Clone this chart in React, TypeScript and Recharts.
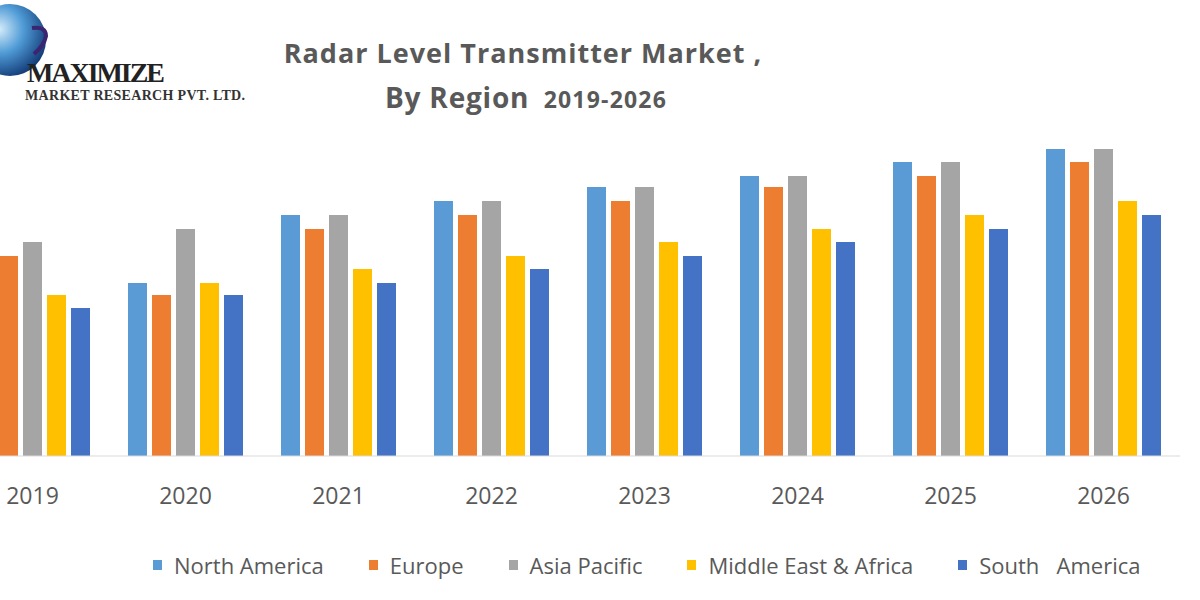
import React from 'react';
import { BarChart, Bar, XAxis, YAxis } from 'recharts';

// years shown on the category axis
const years = ['2019', '2020', '2021', '2022', '2023', '2024', '2025', '2026'];

// values (no axis in the source, relative units)
const northAmerica = [22.0, 17.3, 24.1, 25.5, 26.9, 28.0, 29.4, 30.7];
const europe = [20.0, 16.1, 22.7, 24.1, 25.5, 26.9, 28.0, 29.4];
const asiaPacific = [21.4, 22.7, 24.1, 25.5, 26.9, 28.0, 29.4, 30.7];
const middleEastAfrica = [16.1, 17.3, 18.7, 20.0, 21.4, 22.7, 24.1, 25.5];
const southAmerica = [14.8, 16.1, 17.3, 18.7, 20.0, 21.4, 22.7, 24.1];

const series = [
  { key: 'na', name: 'North America', color: '#5B9BD5', values: northAmerica },
  { key: 'eu', name: 'Europe', color: '#ED7D31', values: europe },
  { key: 'ap', name: 'Asia Pacific', color: '#A5A5A5', values: asiaPacific },
  { key: 'me', name: 'Middle East & Africa', color: '#FFC000', values: middleEastAfrica },
  { key: 'sa', name: 'South   America', color: '#4472C4', values: southAmerica },
];

const data = years.map((year, i) => {
  const row: any = { year };
  series.forEach(s => { row[s.key] = s.values[i]; });
  return row;
});

const font = '"Open Sans", "Liberation Sans", sans-serif';
const textColor = '#595959';

const LegendRow = () => (
  <div style={{ position: 'absolute', left: 153, top: 550, display: 'flex', gap: 45, fontFamily: font, fontSize: 22, color: textColor, lineHeight: '30px' }}>
    {series.map(s => (
      <div key={s.key} style={{ display: 'flex', alignItems: 'center', whiteSpace: 'pre' }}>
        <span style={{ display: 'inline-block', width: 9, height: 10, background: s.color, marginRight: 12 }} />
        {s.name}
      </div>
    ))}
  </div>
);

const Logo = () => (
  <svg width={260} height={110} style={{ position: 'absolute', left: 0, top: 0 }}>
    <defs>
      <radialGradient id="globe" cx="35%" cy="35%" r="75%">
        <stop offset="0%" stopColor="#d6ecfa" />
        <stop offset="45%" stopColor="#4f9bd6" />
        <stop offset="100%" stopColor="#0b2f6b" />
      </radialGradient>
    </defs>
    <circle cx={10} cy={40} r={36} fill="url(#globe)" />
    <path d="M32 28 Q46 26 46 36 Q44 46 34 54" stroke="#3b2470" strokeWidth={4} fill="none" />
    <text x={27} y={82} fontFamily='"Liberation Serif", serif' fontWeight="bold" fontSize={28} fill="#222" textLength={138}>MAXIMIZE</text>
    <text x={25} y={100} fontFamily='"Liberation Serif", serif' fontWeight="bold" fontSize={14} fill="#333" textLength={220}>MARKET RESEARCH PVT. LTD.</text>
  </svg>
);

export default function App() {
  return (
    <div style={{ position: 'absolute', left: 0, top: 0, width: 1200, height: 600, overflow: 'hidden', background: '#fff' }}>
      <Logo />
      <div style={{ position: 'absolute', left: 0, top: 34, width: 1046, textAlign: 'center', fontFamily: font, fontWeight: 700, fontSize: 27, letterSpacing: 1, color: textColor }}>
        Radar Level Transmitter Market ,
      </div>
      <div style={{ position: 'absolute', left: 0, top: 78, width: 1052, textAlign: 'center', fontFamily: font, fontWeight: 700, color: textColor, whiteSpace: 'pre' }}>
        <span style={{ fontSize: 28, letterSpacing: 0.8 }}>By Region</span>
        <span style={{ fontSize: 23, letterSpacing: 1.2 }}>{'  2019-2026'}</span>
      </div>
      <div style={{ position: 'absolute', left: -44, top: 0 }}>
        <BarChart width={1224} height={600} data={data} margin={{ top: 136, right: 0, left: 0, bottom: 114 }} barSize={19} barGap={5}>
          <XAxis dataKey="year" tickLine={false} axisLine={{ stroke: '#d9d9d9' }} height={30}
            tick={{ fill: textColor, fontSize: 23, fontFamily: font }} tickMargin={26} interval={0} />
          <YAxis hide domain={[0, 32]} />
          {series.map(s => (
            <Bar key={s.key} dataKey={s.key} name={s.name} fill={s.color} isAnimationActive={false} />
          ))}
        </BarChart>
      </div>
      <LegendRow />
    </div>
  );
}
